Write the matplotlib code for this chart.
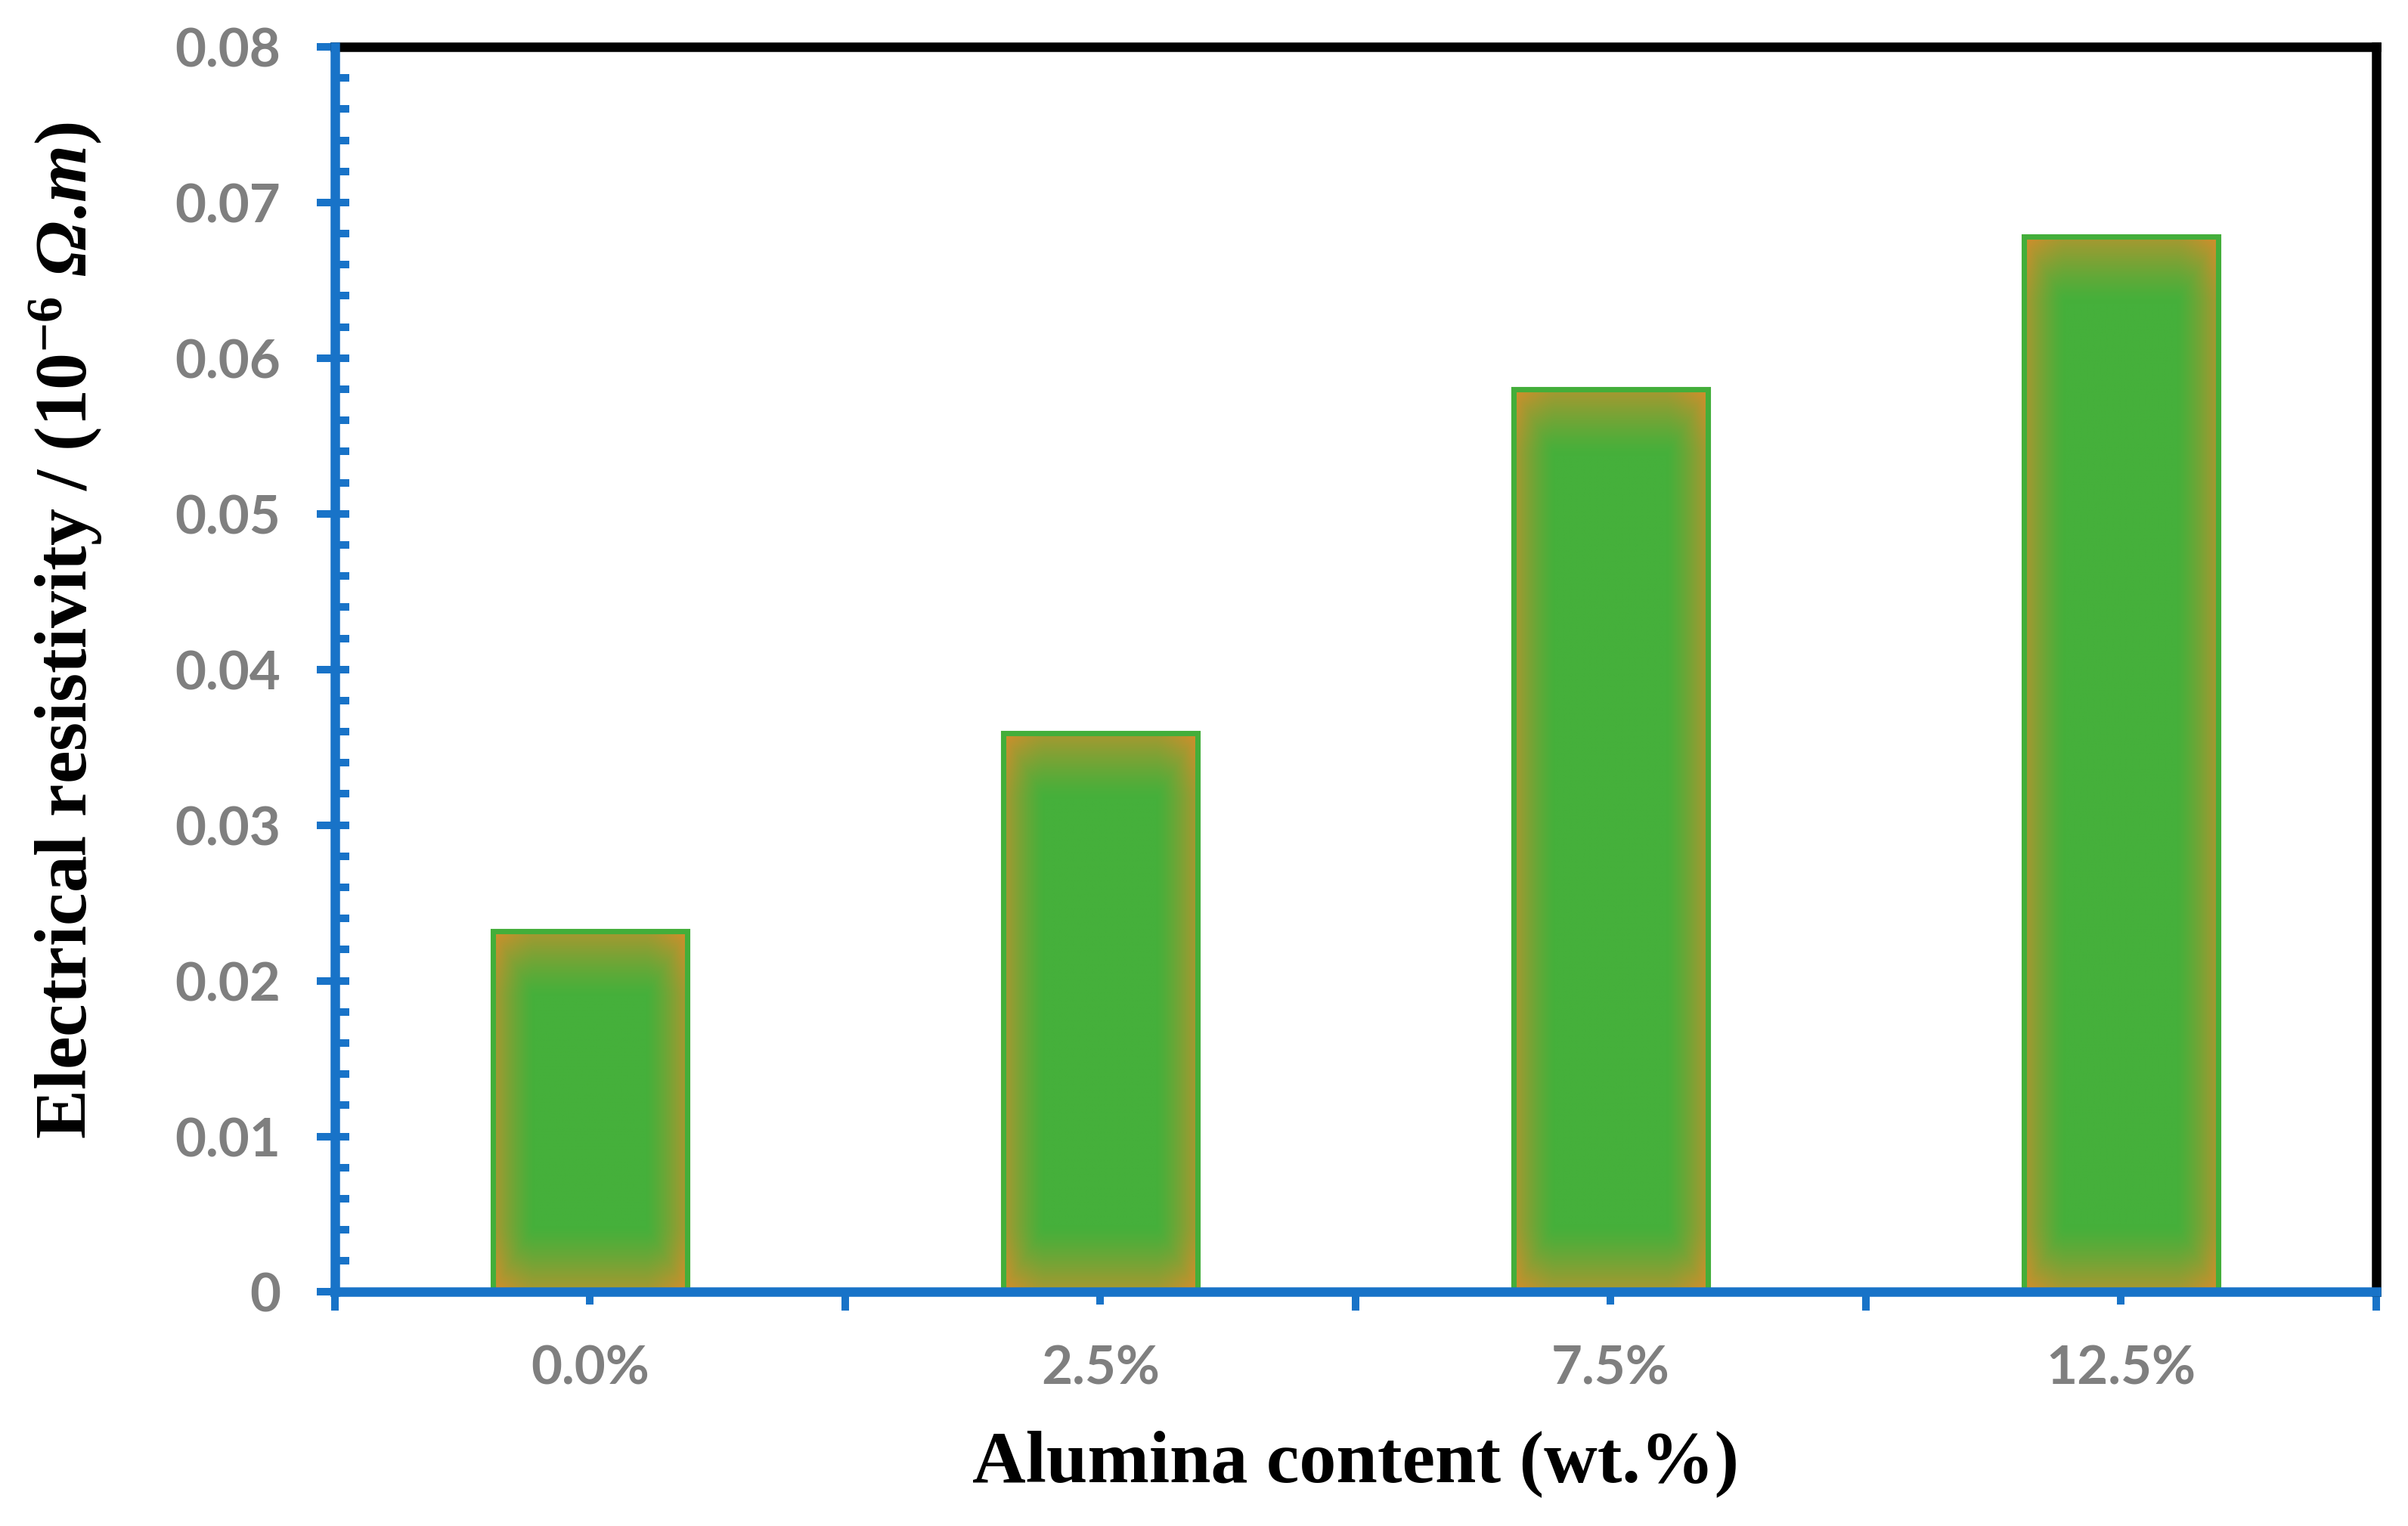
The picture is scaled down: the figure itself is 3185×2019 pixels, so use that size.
import numpy as np
import matplotlib
matplotlib.use('Agg')
import matplotlib.pyplot as plt
from matplotlib.ticker import MultipleLocator, FuncFormatter

# data
categories = ['0.0%', '2.5%', '7.5%', '12.5%']
resistivity = [0.0232, 0.0359, 0.0580, 0.0678]

plt.rcParams['font.family'] = ['Lato', 'DejaVu Sans']
plt.rcParams['font.weight'] = 'bold'
plt.rcParams['mathtext.fontset'] = 'custom'
plt.rcParams['mathtext.rm'] = 'Liberation Serif:bold'
plt.rcParams['mathtext.bf'] = 'Liberation Serif:bold'
plt.rcParams['mathtext.it'] = 'Liberation Serif:bold:italic'
# used for the italic Omega (mathit forces capital greek upright)
plt.rcParams['mathtext.sf'] = 'Liberation Serif:bold:italic'

blue = '#1873C8'
gray = '#7F7F7F'
edge_green = '#43AE3A'
green = np.array([0x45, 0xB0, 0x3B]) / 255
orange = np.array([0xD9, 0x8C, 0x2B]) / 255


def px(v):
    # pixels at 300 dpi -> points
    return v * 72 / 300


fig = plt.figure(figsize=(10.62, 6.73), dpi=300)
ax = fig.add_axes([0.139, 0.1533, 0.8475, 0.8160])

x = np.arange(len(categories))
bars = ax.bar(x, resistivity, width=0.38, facecolor='none',
              edgecolor=edge_green, linewidth=1.7, zorder=3)

# orange-to-green path gradient inside every bar
for bar in bars:
    x0, y0 = bar.get_x(), bar.get_y()
    w, h = bar.get_width(), bar.get_height()
    xs = np.linspace(0, w, 120)
    ys = np.linspace(0, h, 600)
    dx = np.minimum(xs, w - xs)
    dy = np.minimum(ys, h - ys)
    ux = np.clip(1 - dx / (0.21 * w), 0, 1) ** 1.3
    uy = np.clip(1 - dy / 0.0042, 0, 1) ** 1.3
    u = np.maximum.outer(uy, ux) * 0.68 + np.minimum.outer(uy, ux) * 0.32
    img = green * (1 - u[..., None]) + orange * u[..., None]
    im = ax.imshow(img, extent=[x0, x0 + w, y0, y0 + h], origin='lower',
                   aspect='auto', interpolation='bilinear', zorder=2)
    im.set_clip_path(bar)

ax.set_xlim(-0.5, len(categories) - 0.5)
ax.set_ylim(0, 0.08)

# x axis: labels at bar centres, longer ticks between categories
ax.set_xticks(x)
ax.set_xticklabels(categories)
ax.set_xticks(np.arange(-0.5, len(categories), 1), minor=True)
ax.tick_params(axis='x', which='major', direction='out', length=px(17),
               width=2.4, color=blue, labelcolor=gray, labelsize=17, pad=12.5)
ax.tick_params(axis='x', which='minor', direction='out', length=px(24.5),
               width=2.4, color=blue)

# y axis: major ticks outside, minor ticks inside (also at the majors)
ax.yaxis.set_major_locator(MultipleLocator(0.01))
ax.yaxis.set_minor_locator(MultipleLocator(0.002))
ax.yaxis.remove_overlapping_locs = False
ax.yaxis.set_major_formatter(FuncFormatter(lambda v, p: '0' if abs(v) < 1e-9 else f'{v:.2f}'))
ax.tick_params(axis='y', which='major', direction='out', length=px(24),
               width=2.4, color=blue, labelcolor=gray, labelsize=17, pad=11.5)
ax.tick_params(axis='y', which='minor', direction='in', length=px(19),
               width=2.4, color=blue)

for side in ['left', 'bottom']:
    ax.spines[side].set_color(blue)
    ax.spines[side].set_linewidth(3.0)
    ax.spines[side].set_zorder(5)
for side in ['top', 'right']:
    ax.spines[side].set_color('black')
    ax.spines[side].set_linewidth(3.0)

ax.set_xlabel('Alumina content (wt.%)', family='Liberation Serif',
              fontweight='bold', fontsize=23.5, color='black')
ax.xaxis.label.set_va('baseline')
ax.xaxis.set_label_coords(0.5, -0.152)

ax.set_ylabel(r'Electrical resistivity / (10$^{-6}$ $\mathsf{\Omega}$.$\mathsf{m}$)',
              family='Liberation Serif', fontweight='bold', fontsize=23.5,
              color='black')
ax.yaxis.label.set_va('center')
ax.yaxis.set_label_coords(-0.132, 0.531)

fig.savefig('out.png', dpi=300)
plt.close(fig)
